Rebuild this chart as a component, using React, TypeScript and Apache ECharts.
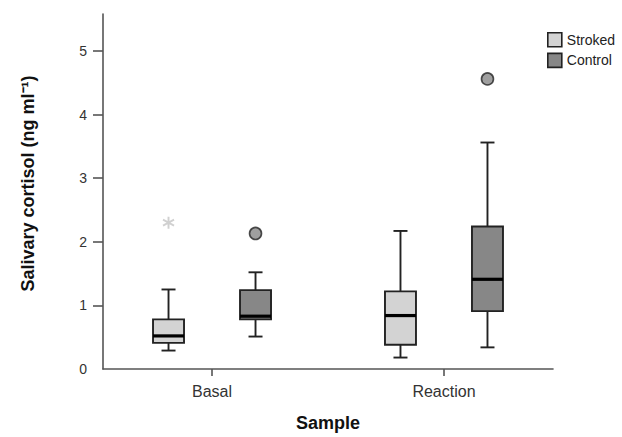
import React, { useEffect, useRef } from "react";
import * as echarts from "echarts";

// ---- data ----
const categories = ["Basal", "Reaction"];
const categoryPositions = [1, 2];
// [min, Q1, median, Q3, max] per category
const strokedBoxes = [
  [0.29, 0.41, 0.52, 0.78, 1.25],
  [0.18, 0.38, 0.84, 1.22, 2.17],
];
const controlBoxes = [
  [0.51, 0.78, 0.83, 1.24, 1.52],
  [0.34, 0.91, 1.41, 2.24, 3.56],
];
// [category position, value]
const strokedOutliers = [[1, 2.3]];
const controlOutliers = [
  [1, 2.13],
  [2, 4.56],
];
const yTickValues = [0, 1, 2, 3, 4, 5];
const seriesNames = ["Stroked", "Control"];

const FONT = "'Liberation Sans', Arial, Helvetica, sans-serif";
const STROKED_FILL = "#d3d3d3";
const CONTROL_FILL = "#878787";
const EDGE = "#222222";
const BOX_W = 31;
const CAP_W = 14;
const OFFSET = 43.5;

function boxRenderer(fill: string, offset: number) {
  return (params: any, api: any) => {
    const x = api.value(0);
    const pMin = api.coord([x, api.value(1)]);
    const pQ1 = api.coord([x, api.value(2)]);
    const pMed = api.coord([x, api.value(3)]);
    const pQ3 = api.coord([x, api.value(4)]);
    const pMax = api.coord([x, api.value(5)]);
    const cx = pMin[0] + offset;
    const lineStyle = { stroke: EDGE, lineWidth: 1.9 };
    return {
      type: "group",
      children: [
        { type: "line", shape: { x1: cx, y1: pMax[1], x2: cx, y2: pQ3[1] }, style: lineStyle },
        { type: "line", shape: { x1: cx, y1: pQ1[1], x2: cx, y2: pMin[1] }, style: lineStyle },
        { type: "line", shape: { x1: cx - CAP_W / 2, y1: pMax[1], x2: cx + CAP_W / 2, y2: pMax[1] }, style: lineStyle },
        { type: "line", shape: { x1: cx - CAP_W / 2, y1: pMin[1], x2: cx + CAP_W / 2, y2: pMin[1] }, style: lineStyle },
        {
          type: "rect",
          shape: { x: cx - BOX_W / 2, y: pQ3[1], width: BOX_W, height: pQ1[1] - pQ3[1] },
          style: { fill, stroke: EDGE, lineWidth: 1.9 },
        },
        {
          type: "line",
          shape: { x1: cx - BOX_W / 2, y1: pMed[1], x2: cx + BOX_W / 2, y2: pMed[1] },
          style: { stroke: "#000", lineWidth: 3.2 },
        },
      ],
    };
  };
}

export default function App() {
  const ref = useRef<HTMLDivElement>(null);
  useEffect(() => {
    if (!ref.current) return;
    const chart = echarts.init(ref.current, null, { renderer: "svg" });
    const toBoxData = (boxes: number[][]) =>
      boxes.map((b, i) => [categoryPositions[i], ...b]);
    const option: any = {
      animation: false,
      backgroundColor: "#ffffff",
      textStyle: { fontFamily: FONT },
      grid: { left: 103, right: 69, top: 14, bottom: 67, containLabel: false },
      legend: {
        orient: "vertical",
        left: 542,
        top: 27,
        itemWidth: 14,
        itemHeight: 14,
        itemGap: 5,
        textStyle: { fontSize: 14, color: "#222", fontFamily: FONT },
        data: [
          { name: seriesNames[0], icon: "rect", itemStyle: { color: STROKED_FILL, borderColor: EDGE, borderWidth: 1.6 } },
          { name: seriesNames[1], icon: "rect", itemStyle: { color: CONTROL_FILL, borderColor: EDGE, borderWidth: 1.6 } },
        ],
      },
      xAxis: {
        type: "value",
        min: 0.53,
        max: 2.47,
        name: "Sample",
        nameLocation: "middle",
        nameGap: 45,
        nameTextStyle: { fontSize: 18, fontWeight: "bold", color: "#111", fontFamily: FONT },
        splitLine: { show: false },
        axisLine: { show: true, lineStyle: { color: "#555", width: 1.6 } },
        axisTick: { show: true, length: 7, customValues: categoryPositions, lineStyle: { color: "#555", width: 1.6 } },
        axisLabel: {
          customValues: categoryPositions,
          margin: 14,
          fontSize: 16,
          color: "#333",
          fontFamily: FONT,
          formatter: (v: number) => categories[categoryPositions.indexOf(Math.round(v))] ?? "",
        },
      },
      yAxis: {
        type: "value",
        min: 0,
        max: 5.58,
        name: "Salivary cortisol (ng ml\u207B\u00B9)",
        nameLocation: "middle",
        nameGap: 66,
        nameTextStyle: { fontSize: 18, fontWeight: "bold", color: "#111", fontFamily: FONT, padding: [0, 0, 0, 16] },
        splitLine: { show: false },
        axisLine: { show: true, lineStyle: { color: "#555", width: 1.6 } },
        axisTick: { show: true, length: 10, customValues: yTickValues.filter((v) => v > 0), lineStyle: { color: "#555", width: 1.6 } },
        axisLabel: { customValues: yTickValues, margin: 16, fontSize: 14, color: "#333", fontFamily: FONT },
      },
      series: [
        {
          name: seriesNames[0],
          type: "custom",
          renderItem: boxRenderer(STROKED_FILL, -OFFSET),
          encode: { x: 0, y: [1, 2, 3, 4, 5] },
          itemStyle: { color: STROKED_FILL },
          data: toBoxData(strokedBoxes),
          z: 2,
        },
        {
          name: seriesNames[1],
          type: "custom",
          renderItem: boxRenderer(CONTROL_FILL, OFFSET),
          encode: { x: 0, y: [1, 2, 3, 4, 5] },
          itemStyle: { color: CONTROL_FILL },
          data: toBoxData(controlBoxes),
          z: 2,
        },
        {
          name: seriesNames[0],
          type: "scatter",
          symbol: "path://M0 0 L0 20 M-8.66 5 L8.66 15 M-8.66 15 L8.66 5",
          symbolSize: [11, 12],
          symbolOffset: [-OFFSET, 0],
          itemStyle: { color: "transparent", borderColor: "#c4c4c4", borderWidth: 2 },
          data: strokedOutliers,
          z: 3,
        },
        {
          name: seriesNames[1],
          type: "scatter",
          symbol: "circle",
          symbolSize: 12,
          symbolOffset: [OFFSET, 0],
          itemStyle: { color: CONTROL_FILL, borderColor: EDGE, borderWidth: 1.6 },
          data: controlOutliers,
          z: 3,
        },
      ],
    };
    chart.setOption(option);
    return () => chart.dispose();
  }, []);
  return (
    <div
      ref={ref}
      style={{ position: "fixed", left: 0, top: 0, width: 622, height: 437, background: "#fff" }}
    />
  );
}
